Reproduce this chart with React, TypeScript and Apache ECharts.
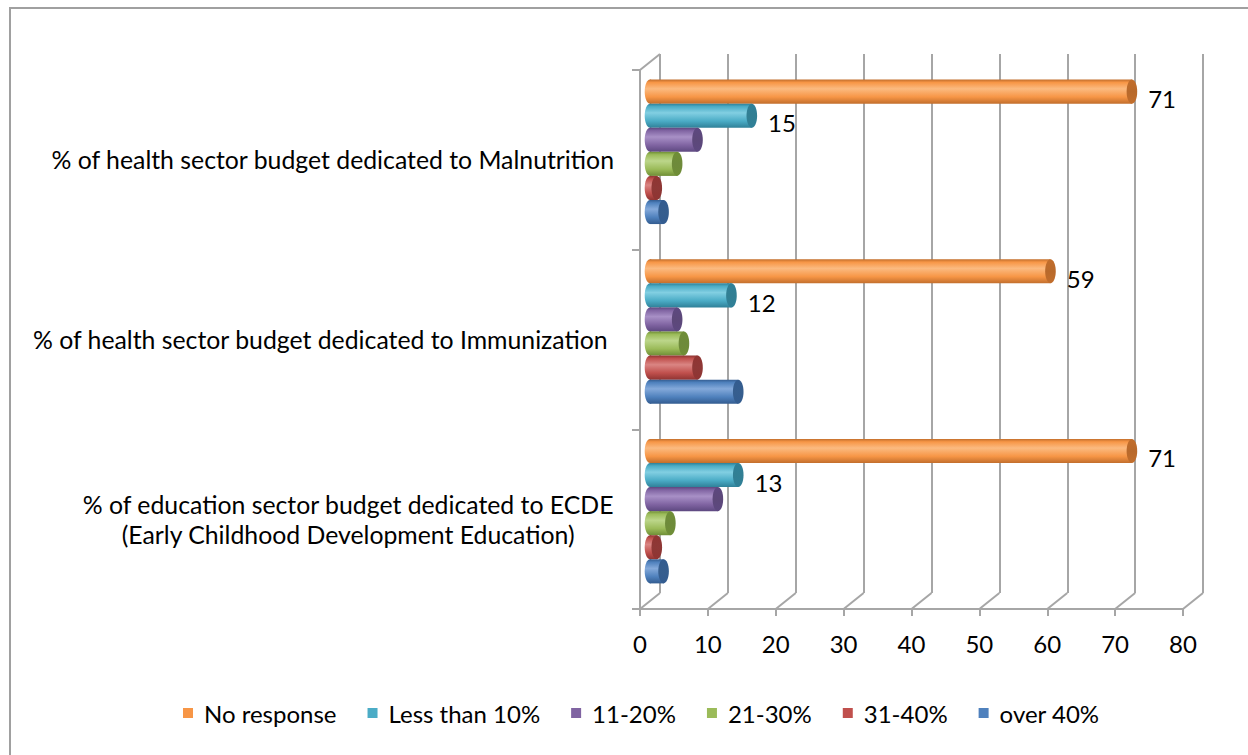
import React, { useEffect, useRef } from "react";
import * as echarts from "echarts";

// ---- data ----
const categories = [
  "% of health sector budget dedicated to Malnutrition",
  "% of health sector budget dedicated to Immunization ",
  "% of education sector budget dedicated to ECDE\n(Early Childhood Development Education)",
];
const seriesNames = ["No response", "Less than 10%", "11-20%", "21-30%", "31-40%", "over 40%"];
const noResponse = [71, 59, 71];
const lessThan10 = [15, 12, 13];
const pct11to20 = [7, 4, 10];
const pct21to30 = [4, 5, 3];
const pct31to40 = [1, 7, 1];
const over40 = [2, 13, 2];
const seriesValues = [noResponse, lessThan10, pct11to20, pct21to30, pct31to40, over40];
const labelledSeries = [true, true, false, false, false, false];
const xMin = 0;
const xMax = 80;
const xInterval = 10;

// ---- styling ----
const FONT = "Lato, 'Open Sans', sans-serif";
const GRID_COLOR = "#A6A6A6";
const CAT_FONT = 24.8;
const NUM_FONT = 24;
const palette = [
  { base: "#F79646", light: "#FBBA80", dark: "#C26E2C", cap: "#B8692B" },
  { base: "#4BACC6", light: "#82CFE2", dark: "#2F8098", cap: "#327F93" },
  { base: "#8064A2", light: "#A890C6", dark: "#5D4880", cap: "#5C4879" },
  { base: "#9BBB59", light: "#BCD68A", dark: "#6F8E36", cap: "#6E8A3B" },
  { base: "#C0504D", light: "#DA8583", dark: "#903432", cap: "#8E3836" },
  { base: "#4F81BD", light: "#84A9DA", dark: "#335C90", cap: "#365E8E" },
];
const FRONT = { left: 640, top: 70, width: 543, height: 539 };
const DEPTH = { dx: 20, dy: -16 };
const BAR_RATIO = 0.134;

function bodyGradient(c: any) {
  return new echarts.graphic.LinearGradient(0, 0, 0, 1, [
    { offset: 0, color: c.dark },
    { offset: 0.12, color: c.base },
    { offset: 0.38, color: c.light },
    { offset: 0.72, color: c.base },
    { offset: 1, color: c.dark },
  ]);
}
function capGradient(c: any) {
  return new echarts.graphic.LinearGradient(0, 0, 0, 1, [
    { offset: 0, color: c.dark },
    { offset: 0.5, color: c.cap },
    { offset: 1, color: c.dark },
  ]);
}

export default function App() {
  const ref = useRef<HTMLDivElement>(null);
  useEffect(() => {
    if (!ref.current) return;
    const chart = echarts.init(ref.current, undefined, { renderer: "svg" });

    const mid = {
      left: FRONT.left + DEPTH.dx / 2,
      top: FRONT.top + DEPTH.dy / 2,
      width: FRONT.width,
      height: FRONT.height,
    };
    const back = {
      left: FRONT.left + DEPTH.dx,
      top: FRONT.top + DEPTH.dy,
      width: FRONT.width,
      height: FRONT.height,
    };

    const tickValues: number[][] = [];
    for (let v = xMin; v <= xMax; v += xInterval) tickValues.push([v]);

    const cylSeries = seriesNames.map((name, s) => {
      const c = palette[s];
      return {
        type: "custom",
        name,
        xAxisIndex: 0,
        yAxisIndex: 0,
        itemStyle: { color: c.base },
        encode: { x: 1, y: 0 },
        data: seriesValues[s].map((v, i) => [i, v]),
        renderItem: (params: any, api: any) => {
          const cat = api.value(0);
          const val = api.value(1);
          const start = api.coord([0, cat]);
          const end = api.coord([val, cat]);
          const band = api.size([0, 1])[1];
          const t = band * BAR_RATIO;
          const top = start[1] - 3 * t + s * t;
          const cy = top + t / 2;
          const rx = t * 0.22;
          const ry = t / 2;
          const children: any[] = [
            {
              type: "ellipse",
              shape: { cx: start[0], cy, rx, ry },
              style: { fill: bodyGradient(c) },
            },
            {
              type: "rect",
              shape: { x: start[0], y: top, width: end[0] - start[0], height: t },
              style: { fill: bodyGradient(c) },
            },
            {
              type: "ellipse",
              shape: { cx: end[0], cy, rx, ry },
              style: { fill: capGradient(c) },
            },
          ];
          if (labelledSeries[s]) {
            children.push({
              type: "text",
              style: {
                text: String(val),
                x: end[0] + rx + 11,
                y: cy + 7,
                verticalAlign: "middle",
                align: "left",
                fontSize: NUM_FONT,
                fontFamily: FONT,
                fill: "#000",
              },
            });
          }
          return { type: "group", children };
        },
      };
    });

    const frameSeries = {
      type: "custom",
      name: "frame",
      xAxisIndex: 2,
      yAxisIndex: 2,
      silent: true,
      encode: { x: 0 },
      data: tickValues,
      renderItem: (params: any, api: any) => {
        const cs = params.coordSys;
        const x = api.coord([api.value(0), 0])[0];
        const bottom = cs.y + cs.height;
        const lines: any[] = [
          {
            type: "line",
            shape: { x1: x, y1: bottom, x2: x + DEPTH.dx, y2: bottom + DEPTH.dy },
            style: { stroke: GRID_COLOR, lineWidth: 2 },
          },
        ];
        if (params.dataIndex === 0) {
          lines.push({
            type: "line",
            shape: { x1: cs.x, y1: cs.y, x2: cs.x + DEPTH.dx, y2: cs.y + DEPTH.dy },
            style: { stroke: GRID_COLOR, lineWidth: 2 },
          });
        }
        return { type: "group", children: lines };
      },
    };

    const hiddenCat = {
      type: "category",
      data: categories,
      inverse: true,
      show: false,
    };
    const valueAxisBase = { type: "value", min: xMin, max: xMax, interval: xInterval };

    chart.setOption({
      animation: false,
      backgroundColor: "#fff",
      textStyle: { fontFamily: FONT },
      graphic: [
        {
          type: "rect",
          shape: { x: 10, y: 8, width: 1400, height: 900 },
          style: { fill: "none", stroke: "#A0A0A0", lineWidth: 2 },
          silent: true,
          z: -10,
        },
      ],
      legend: {
        data: seriesNames,
        left: 178,
        top: 696,
        icon: "rect",
        itemWidth: 10,
        itemHeight: 10,
        itemGap: 31,
        textStyle: { fontSize: NUM_FONT, fontFamily: FONT, color: "#000", padding: [0, 0, 0, 6] },
      },
      grid: [
        { ...mid, containLabel: false },
        { ...back, containLabel: false },
        { ...FRONT, containLabel: false },
      ],
      xAxis: [
        { ...valueAxisBase, gridIndex: 0, show: false },
        {
          ...valueAxisBase,
          gridIndex: 1,
          axisLine: { show: false },
          axisTick: { show: false },
          axisLabel: { show: false },
          splitLine: { show: true, lineStyle: { color: GRID_COLOR, width: 2 } },
        },
        {
          ...valueAxisBase,
          gridIndex: 2,
          axisLine: { show: true, lineStyle: { color: GRID_COLOR, width: 2 } },
          axisTick: { show: true, length: 7, lineStyle: { color: GRID_COLOR, width: 2 } },
          axisLabel: { show: true, fontSize: NUM_FONT, fontFamily: FONT, color: "#000", margin: 22 },
          splitLine: { show: false },
        },
      ],
      yAxis: [
        { ...hiddenCat, gridIndex: 0 },
        { ...hiddenCat, gridIndex: 1 },
        {
          type: "category",
          data: categories,
          inverse: true,
          gridIndex: 2,
          axisLine: { show: true, lineStyle: { color: GRID_COLOR, width: 2 } },
          axisTick: { show: true, length: 8, lineStyle: { color: GRID_COLOR, width: 2 } },
          splitLine: { show: false },
          axisLabel: {
            show: true,
            margin: 26,
            fontSize: CAT_FONT,
            fontFamily: FONT,
            color: "#000",
            lineHeight: 30,
            formatter: (v: string) =>
              v.indexOf("\n") >= 0
                ? v
                    .split("\n")
                    .map((l) => "{c|" + l + "}")
                    .join("\n")
                : v,
            rich: {
              c: { align: "center", fontSize: CAT_FONT, fontFamily: FONT, color: "#000", lineHeight: 30 },
            },
          },
        },
      ],
      series: [...cylSeries, frameSeries],
    });
    return () => chart.dispose();
  }, []);
  return (
    <div
      ref={ref}
      style={{ position: "fixed", left: 0, top: 0, width: 1248, height: 755, background: "#fff" }}
    />
  );
}
